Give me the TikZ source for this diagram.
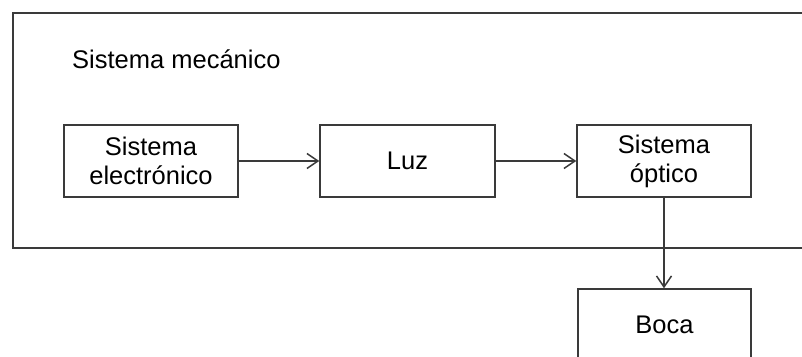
\documentclass[tikz,border=0pt]{standalone}
\usepackage{fontspec}
\setmainfont{Liberation Sans}
\usetikzlibrary{arrows.meta}
\definecolor{linec}{HTML}{3A3A3A}
\tikzset{
  blk/.style={draw=linec, line width=1.5pt, minimum width=174pt, minimum height=72pt, inner sep=0pt, align=center, font=\fontsize{25.5}{29}\selectfont},
  conn/.style={draw=linec, line width=1.5pt, -{Straight Barb[length=11pt,width=15pt]}},
}
\begin{document}
\begin{tikzpicture}[x=1pt,y=-1pt]
\clip (0,0) rectangle (802,356);
\fill[white] (0,0) rectangle (802,356);
\draw[linec, line width=1.5pt] (13,13) rectangle (815,248);
\node[anchor=base west, inner sep=0pt, font=\fontsize{25.5}{29}\selectfont] (mec) at (72,68) {Sistema mecánico};
\node[blk] (elec) at (151,161) {Sistema\\electrónico};
\node[blk, minimum width=175pt] (luz) at (407.5,161) {Luz};
\node[blk] (opt) at (664,161) {Sistema\\óptico};
\node[blk, minimum width=173pt] (boca) at (664.5,325) {Boca};
\draw[conn] (elec) -- (luz);
\draw[conn] (luz) -- (opt);
\draw[conn] (opt.south) -- (opt.south |- boca.north);
\end{tikzpicture}
\end{document}
